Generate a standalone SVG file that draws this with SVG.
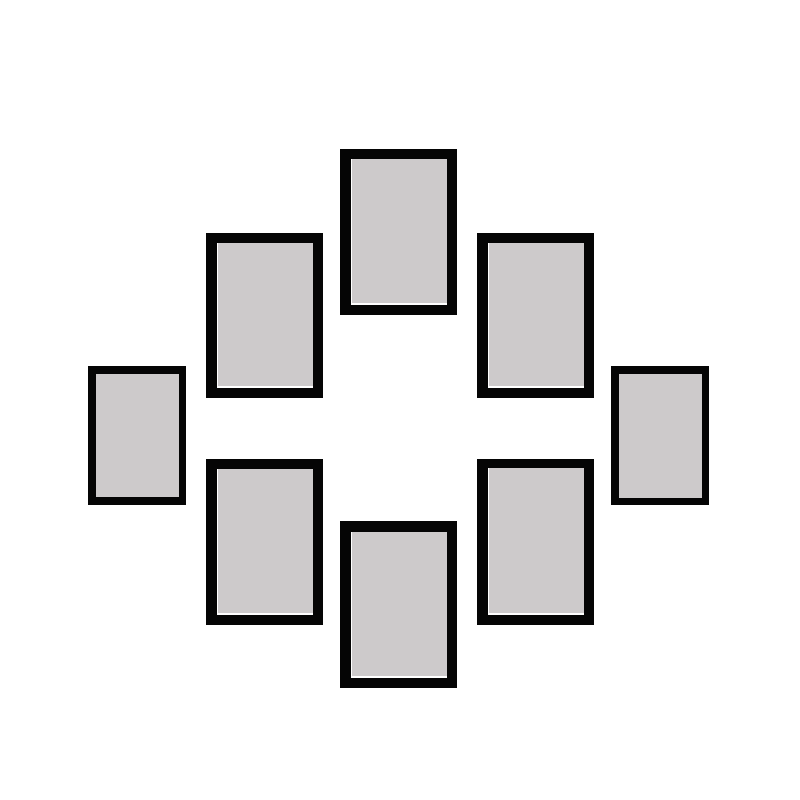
<svg xmlns="http://www.w3.org/2000/svg" width="800" height="800" viewBox="0 0 800 800">
<style>
.frame{fill:#050505}
.mat{fill:#ffffff}
.photo{fill:#cdcacb}
</style>
<rect width="800" height="800" fill="#ffffff"/>
<g id="frame-top">
<rect class="frame" x="340" y="149" width="117" height="166"/>
<rect class="mat" x="351" y="159" width="96" height="146"/>
<rect class="photo" x="352" y="159" width="95" height="144"/>
</g>
<g id="frame-upper-left">
<rect class="frame" x="206" y="233" width="117" height="165"/>
<rect class="mat" x="217" y="243" width="96" height="145"/>
<rect class="photo" x="218" y="243" width="95" height="143"/>
</g>
<g id="frame-upper-right">
<rect class="frame" x="477" y="233" width="117" height="165"/>
<rect class="mat" x="488" y="243" width="96" height="145"/>
<rect class="photo" x="489" y="243" width="95" height="143"/>
</g>
<g id="frame-left">
<rect class="frame" x="88" y="366" width="98" height="139"/>
<rect class="mat" x="96" y="374" width="83" height="123"/>
<rect class="photo" x="96" y="374" width="83" height="123"/>
</g>
<g id="frame-right">
<rect class="frame" x="611" y="366" width="98" height="139"/>
<rect class="mat" x="619" y="374" width="83" height="124"/>
<rect class="photo" x="619" y="374" width="83" height="124"/>
</g>
<g id="frame-lower-left">
<rect class="frame" x="206" y="459" width="117" height="166"/>
<rect class="mat" x="217" y="469" width="96" height="146"/>
<rect class="photo" x="218" y="469" width="95" height="144"/>
</g>
<g id="frame-lower-right">
<rect class="frame" x="477" y="459" width="117" height="166"/>
<rect class="mat" x="488" y="468" width="96" height="147"/>
<rect class="photo" x="489" y="468" width="95" height="145"/>
</g>
<g id="frame-bottom">
<rect class="frame" x="340" y="521" width="117" height="167"/>
<rect class="mat" x="351" y="532" width="96" height="146"/>
<rect class="photo" x="352" y="532" width="95" height="144"/>
</g>
</svg>
